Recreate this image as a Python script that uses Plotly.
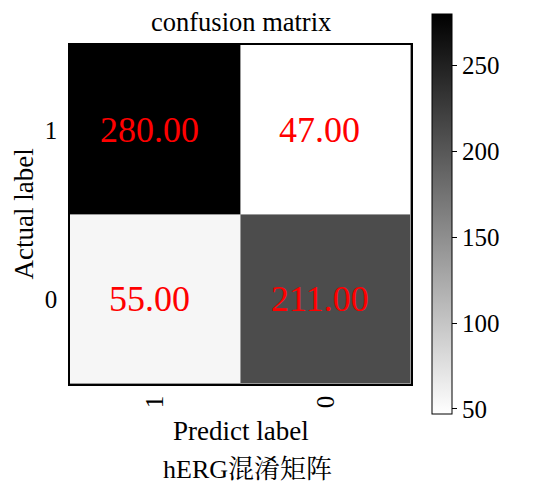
import plotly.graph_objects as go

pred_labels = ["1", "0"]
actual_labels = ["1", "0"]
values = [[280, 47],
          [55, 211]]
cbar_ticks = [50, 100, 150, 200, 250]

SERIF = "Liberation Serif, Times New Roman, Noto Serif CJK SC, Noto Sans CJK SC, serif"

fig = go.Figure()
fig.add_trace(go.Heatmap(
    z=values, x=list(range(len(pred_labels))), y=list(range(len(actual_labels))),
    colorscale=[[0, "#ffffff"], [1, "#000000"]],
    zmin=min(min(r) for r in values), zmax=max(max(r) for r in values),
    xgap=1, ygap=1,
    showscale=True,
    colorbar=dict(
        thickness=20, thicknessmode="pixels",
        len=400, lenmode="pixels",
        x=1.0616, xanchor="left", xpad=0,
        y=0.5015, yanchor="middle", ypad=0,
        outlinecolor="black", outlinewidth=1,
        tickvals=cbar_ticks, ticks="outside", ticklen=5, tickcolor="black",
        tickfont=dict(family=SERIF, size=25, color="black"),
    ),
    hoverinfo="skip",
))

for i, a in enumerate(actual_labels):
    for j, p in enumerate(pred_labels):
        fig.add_annotation(x=j, y=i, text=f"{values[i][j]:.2f}", showarrow=False, xshift=-6,
                           font=dict(family=SERIF, size=36, color="red"))

fig.add_annotation(text="confusion matrix", xref="paper", yref="paper", x=0.5, y=1,
                   yanchor="bottom", yshift=6, showarrow=False,
                   font=dict(family=SERIF, size=26.5, color="black"))
fig.add_annotation(text="Predict label", xref="paper", yref="paper", x=0.5, y=0,
                   yanchor="top", yshift=-30, showarrow=False,
                   font=dict(family=SERIF, size=27, color="black"))
fig.add_annotation(text="hERG混淆矩阵", xref="paper", yref="paper", x=0.5, y=0,
                   yanchor="top", yshift=-69, xshift=7, showarrow=False,
                   font=dict(family=SERIF, size=26, color="black"))
fig.add_annotation(text="Actual label", xref="paper", yref="paper", x=0, y=0.5,
                   xanchor="center", yanchor="middle", xshift=-47, textangle=-90, showarrow=False,
                   font=dict(family=SERIF, size=27, color="black"))

fig.update_xaxes(tickmode="array", tickvals=list(range(len(pred_labels))), ticktext=pred_labels,
                 range=[-0.5, len(pred_labels) - 0.5],
                 showline=True, linecolor="black", linewidth=1.5, mirror=True, automargin=False,
                 ticks="", tickangle=-90, showgrid=False, zeroline=False,
                 tickfont=dict(family=SERIF, size=25, color="black"))
fig.update_yaxes(tickmode="array", tickvals=list(range(len(actual_labels))), ticktext=actual_labels,
                 range=[len(actual_labels) - 0.5, -0.5],
                 showline=True, linecolor="black", linewidth=1.5, mirror=True, automargin=False,
                 ticks="", showgrid=False, zeroline=False, ticklabelstandoff=6,
                 tickfont=dict(family=SERIF, size=25, color="black"))

fig.update_layout(
    width=548, height=495,
    margin=dict(l=62, r=145, t=37, b=119, autoexpand=False),
    paper_bgcolor="white", plot_bgcolor="#999999",
    showlegend=False,
)

fig.write_html("out.html")
